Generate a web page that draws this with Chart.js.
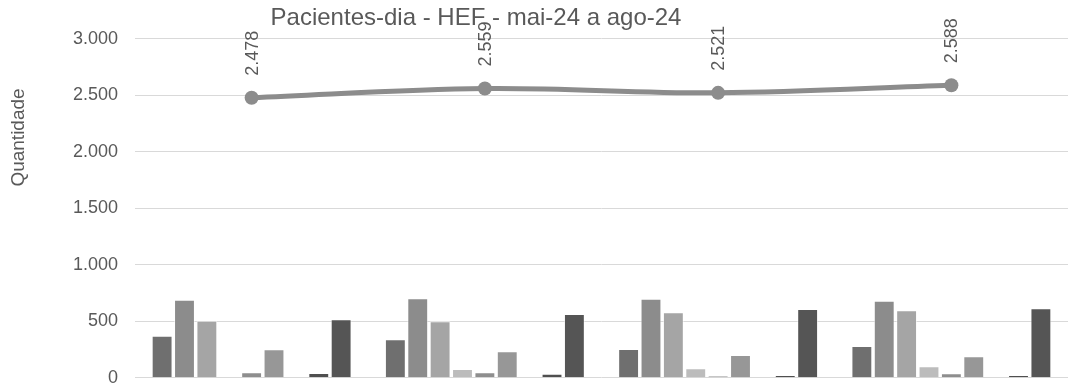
<!DOCTYPE html>
<html>
<head>
<meta charset="utf-8">
<script src="https://cdn.jsdelivr.net/npm/chart.js@4.4.1/dist/chart.umd.min.js"></script>
<style>
html,body{margin:0;padding:0;background:#fff;}
#wrap{width:1075px;height:387px;}
</style>
</head>
<body>
<div id="wrap"><canvas id="c" width="1075" height="387"></canvas></div>
<script>
const categories = ["mai-24", "jun-24", "jul-24", "ago-24"];
const pacientesDia = [2478, 2559, 2521, 2588];
const serie1 = [372, 340, 254, 280];
const serie2 = [690, 703, 699, 681];
const serie3 = [505, 500, 579, 596];
const serie4 = [null, 77, 83, 101];
const serie5 = [48, 48, 15, 39];
const serie6 = [251, 233, 201, 189];
const serie7 = [null, null, null, null];
const serie8 = [42, 35, 24, 24];
const serie9 = [517, 564, 608, 614];
const yTicks = [0, 500, 1000, 1500, 2000, 2500, 3000];
const chartTitle = "Pacientes-dia - HEF - mai-24 a ago-24";
const yTitle = "Quantidade";

const FONT = "'Liberation Sans', Arial, sans-serif";
function fmt(v){
  return String(Math.round(v)).replace(/\B(?=(\d{3})+(?!\d))/g, ".");
}

const barSeries = [
  {label:"Série 1", data:serie1, color:"#6f6f6f"},
  {label:"Série 2", data:serie2, color:"#8c8c8c"},
  {label:"Série 3", data:serie3, color:"#a5a5a5"},
  {label:"Série 4", data:serie4, color:"#bcbcbc"},
  {label:"Série 5", data:serie5, color:"#8e8e8e"},
  {label:"Série 6", data:serie6, color:"#979797"},
  {label:"Série 7", data:serie7, color:"#7a7a7a"},
  {label:"Série 8", data:serie8, color:"#4f4f4f"},
  {label:"Série 9", data:serie9, color:"#555555"}
];

const datasets = [{
  type:"line",
  label:"Pacientes-dia",
  data:pacientesDia,
  borderColor:"#8c8c8c",
  backgroundColor:"#8c8c8c",
  borderWidth:5,
  pointRadius:7,
  pointHoverRadius:7,
  pointBackgroundColor:"#8c8c8c",
  pointBorderWidth:0,
  tension:0.35,
  order:0
}].concat(barSeries.map(s => ({
  type:"bar",
  label:s.label,
  data:s.data,
  backgroundColor:s.color,
  borderColor:"rgba(255,255,255,0.55)",
  borderWidth:1,
  categoryPercentage:0.8635,
  barPercentage:0.933,
  order:1
})));

const decor = {
  id:"decor",
  afterDatasetsDraw(chart){
    const ctx = chart.ctx;
    const meta = chart.getDatasetMeta(0);
    ctx.save();
    ctx.fillStyle = "#595959";
    ctx.font = "18px " + FONT;
    meta.data.forEach((pt, i) => {
      ctx.save();
      ctx.translate(pt.x + 1, pt.y - 22);
      ctx.rotate(-Math.PI/2);
      ctx.textAlign = "left";
      ctx.textBaseline = "middle";
      ctx.fillText(fmt(pacientesDia[i]), 0, 0);
      ctx.restore();
    });
    ctx.restore();
  },
  afterDraw(chart){
    const ctx = chart.ctx;
    const ys = chart.scales.y;
    ctx.save();
    ctx.fillStyle = "#595959";
    ctx.font = "18px " + FONT;
    ctx.textAlign = "right";
    ctx.textBaseline = "middle";
    yTicks.forEach(v => {
      ctx.fillText(fmt(v), chart.chartArea.left - 17, ys.getPixelForValue(v));
    });
    ctx.font = "24px " + FONT;
    ctx.textAlign = "center";
    ctx.textBaseline = "alphabetic";
    ctx.fillText(chartTitle, 476, 25);
    ctx.translate(19, 137.5);
    ctx.rotate(-Math.PI/2);
    ctx.font = "19px " + FONT;
    ctx.textBaseline = "middle";
    ctx.fillText(yTitle, 0, 0);
    ctx.restore();
  }
};

new Chart(document.getElementById("c"), {
  data:{labels:categories, datasets:datasets},
  options:{
    responsive:false,
    animation:false,
    events:[],
    layout:{padding:{left:135, right:2, top:38.7, bottom:9.3}},
    plugins:{legend:{display:false}, title:{display:false}, tooltip:{enabled:false}},
    scales:{
      x:{display:false, offset:true, grid:{display:false}},
      y:{
        min:0, max:3000,
        afterBuildTicks(scale){ scale.ticks = yTicks.map(v => ({value:v})); },
        afterFit(scale){ scale.width = 0; },
        ticks:{display:false},
        grid:{color:"#d9d9d9", lineWidth:1, drawTicks:false},
        border:{display:false}
      }
    }
  },
  plugins:[decor]
});
</script>
</body>
</html>
